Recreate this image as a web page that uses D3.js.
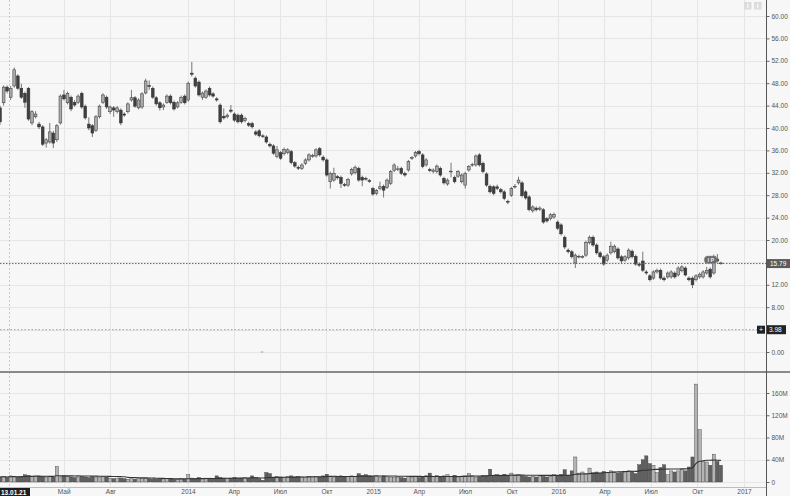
<!DOCTYPE html>
<html><head><meta charset="utf-8">
<script src="https://cdn.jsdelivr.net/npm/d3@7"></script>
<style>
body{margin:0;background:#f7f7f7;}
svg{display:block;font-family:"Liberation Sans",Arial,sans-serif;}
</style>
</head><body>
<svg id="c" width="790" height="496"></svg>
<script>
// ---- data (weekly candles) ----
const startDate = "2012-12-24";
const openP = [
43.6,44.5,47.3,45.5,47.5,49.3,47.1,46.2,47.1,40.9,
42.0,40.7,40.2,37.3,37.5,39.1,37.9,40.9,45.9,44.5,
45.5,44.6,44.6,46.2,43.9,40.7,40.4,39.6,42.0,44.6,
45.5,42.9,43.6,42.9,43.2,42.5,42.9,45.0,45.4,43.6,
43.75,46.25,47.6,47.1,45.4,44.5,43.75,44.6,45.7,44.6,
43.75,44.6,45.7,45.0,49.8,48.9,48.2,45.5,45.5,47.1,
46.1,45.2,44.1,42.1,42.0,43.2,42.5,42.3,42.3,41.3,
40.8,40.8,39.3,39.5,38.6,38.4,37.1,36.8,34.9,35.6,
35.4,35.6,35.8,33.8,33.0,32.8,33.7,34.3,35.0,35.0,
36.3,34.8,34.3,30.4,30.7,31.3,31.2,29.9,29.8,31.8,
32.0,32.8,31.2,31.0,30.6,29.2,28.3,29.2,29.6,29.4,
30.1,32.4,32.6,32.8,31.9,32.5,34.6,35.0,35.8,35.2,
33.4,32.6,32.2,32.2,32.8,31.0,30.0,32.2,31.2,31.4,
30.4,29.8,32.5,33.4,33.4,35.2,33.7,31.8,29.6,29.5,
29.5,29.0,28.6,26.9,28.0,29.5,30.2,30.2,28.6,27.7,
25.2,25.7,25.5,25.4,23.8,23.8,24.1,23.2,22.7,20.5,
18.2,17.9,15.9,17.0,17.0,17.3,19.5,20.5,19.1,17.7,
17.0,16.4,17.7,17.9,18.4,17.0,16.4,16.8,18.0,17.1,
15.7,16.25,14.3,13.6,13.2,14.3,14.6,13.2,13.4,13.4,
14.1,13.75,14.5,15.0,13.2,13.2,12.9,13.4,13.4,14.1,
14.8,14.1,16.6,15.9];
const highP = [
44.0,47.6,47.6,47.5,50.8,49.6,47.9,46.5,47.3,43.2,
43.0,41.1,40.5,38.2,40.9,39.5,40.7,46.0,46.8,46.5,
45.8,45.0,46.0,46.5,44.2,41.9,40.7,42.3,44.2,46.2,
45.8,44.0,43.9,43.9,43.5,42.8,44.6,46.8,45.7,45.3,
46.4,48.8,48.5,47.4,45.7,44.8,44.4,46.0,46.0,44.9,
44.8,45.8,46.0,48.3,51.8,49.2,48.5,46.5,46.9,47.4,
46.4,45.5,44.4,43.5,42.6,44.1,42.8,42.6,42.6,42.0,
41.1,41.1,39.6,39.8,38.9,38.7,37.4,37.1,36.8,35.9,
36.5,36.4,36.1,34.1,33.3,33.7,34.6,35.5,35.4,36.4,
36.6,35.1,34.6,32.2,32.9,31.6,31.5,30.2,31.1,32.9,
33.3,33.1,31.5,31.3,30.9,29.5,29.1,30.4,29.9,31.0,
32.5,33.7,33.2,33.1,32.2,34.3,35.0,35.9,36.1,35.5,
34.6,32.9,32.8,33.5,33.1,31.3,31.0,33.8,31.5,32.5,
31.9,32.2,33.4,33.8,35.3,35.5,34.0,32.1,29.9,29.8,
29.9,29.3,28.9,27.2,29.5,30.0,31.3,30.5,28.9,28.0,
26.2,26.0,26.0,25.7,24.1,24.8,24.9,23.5,23.0,20.8,
18.5,18.2,17.6,17.4,17.3,19.9,20.8,20.8,19.4,18.0,
17.3,17.6,19.7,19.2,18.7,17.3,17.3,18.5,18.3,17.4,
16.0,17.9,14.6,13.9,14.6,14.9,14.9,13.5,14.4,14.6,
14.4,15.3,15.5,15.3,13.5,13.5,13.9,14.2,14.6,15.2,
15.1,17.4,17.5,16.1];
const lowP = [
40.6,44.0,46.2,45.0,47.2,46.8,45.2,43.6,41.3,40.5,
41.7,39.8,36.8,36.5,37.2,36.4,37.5,40.6,44.9,44.2,
43.0,43.8,44.3,43.4,41.5,39.6,38.4,39.3,41.7,44.3,
43.4,42.5,42.0,42.6,40.5,42.0,42.6,44.7,43.6,43.3,
43.4,46.0,46.8,45.2,44.0,43.1,43.2,44.3,44.2,43.1,
43.5,44.3,44.2,44.7,49.2,47.2,45.6,45.0,45.2,45.6,
45.4,44.7,40.8,41.5,41.7,42.7,41.1,40.8,40.8,41.0,
40.2,39.9,38.6,38.3,38.2,37.2,36.5,35.2,34.6,34.3,
35.1,35.3,33.5,32.9,32.5,32.5,33.4,34.0,34.7,34.7,
34.9,34.0,31.3,29.2,30.4,30.8,29.3,29.5,29.5,31.5,
31.7,30.4,29.6,30.6,30.2,27.9,28.0,28.9,27.6,29.1,
29.8,32.1,32.3,31.6,31.3,32.2,34.3,34.7,35.1,32.8,
33.1,32.1,31.9,31.9,31.3,29.9,29.7,31.2,30.1,31.1,
30.1,29.2,32.2,33.1,33.1,33.1,31.9,29.5,28.3,28.0,
28.9,28.3,27.1,26.4,27.7,29.2,29.9,27.6,27.2,25.1,
24.9,25.1,25.2,22.9,23.1,23.5,23.8,21.8,20.8,18.4,
17.6,16.7,15.0,16.7,16.7,17.0,19.2,18.8,17.4,16.7,
15.4,16.1,17.4,17.6,16.5,15.9,16.1,16.5,16.7,15.4,
15.2,14.3,13.8,12.6,12.9,14.0,12.9,12.6,13.1,13.1,
13.1,13.5,14.2,13.5,12.6,11.4,12.6,13.1,13.1,13.8,
13.1,13.8,16.0,15.6];
const closeP = [
41.1,47.3,46.6,47.1,50.4,47.1,45.5,44.6,41.6,42.9,
42.5,40.2,37.1,37.9,39.3,37.3,40.4,45.7,45.2,46.2,
43.4,44.1,45.7,43.75,41.8,40.0,39.1,42.0,43.9,45.9,
43.75,43.75,43.2,43.6,40.9,42.3,44.3,45.4,43.9,45.0,
46.1,48.4,47.4,45.5,44.3,43.6,44.1,45.7,44.5,43.4,
44.5,45.5,44.5,48.0,49.6,47.5,45.9,46.25,46.6,45.9,
45.7,45.0,41.1,41.8,42.3,43.0,41.4,41.1,41.1,41.7,
40.5,40.2,38.9,38.6,38.5,37.5,36.8,35.5,36.1,34.6,
36.2,36.1,33.8,33.2,32.8,33.4,34.3,35.2,35.1,36.1,
35.2,34.3,31.6,31.9,31.9,31.1,30.1,29.8,30.8,32.6,
33.0,30.7,30.7,30.9,30.5,28.2,28.8,29.5,28.9,30.7,
32.2,33.4,32.7,31.9,31.6,34.0,34.7,35.6,35.4,33.1,
34.3,32.4,32.5,33.2,31.6,30.2,30.7,32.3,30.4,32.2,
31.6,31.9,33.1,33.5,35.0,33.4,32.2,29.8,28.6,28.3,
29.2,28.6,27.4,26.8,29.2,29.6,30.7,27.9,27.5,25.4,
25.9,25.4,25.7,23.2,23.4,24.5,24.6,22.1,21.1,18.75,
17.9,17.0,17.3,17.1,17.05,19.6,20.5,19.1,17.7,17.0,
15.7,17.3,18.9,18.9,16.8,16.25,17.0,18.2,17.0,15.7,
15.5,14.6,14.1,12.9,14.3,14.6,13.2,12.9,14.1,14.3,
13.4,15.0,15.2,13.75,12.9,12.0,13.6,13.9,14.3,14.6,
13.4,17.1,16.25,15.79];
const volumeM = [
9,10,8,11,10,9,10,13,12,10,
11,11,10,9,10,9,28,9,11,10,
9,8,9,10,9,8,10,9,8,10,
9,7,6,6,7,6,5,6,5,6,
6,7,6,5,5,6,4,6,5,5,
5,6,5,13,7,6,8,6,7,7,
6,11,8,7,6,7,8,6,7,8,
7,11,8,6,3,17,15,9,10,9,
8,10,11,9,10,9,8,10,9,10,
9,11,14,10,9,10,11,9,10,11,
10,15,12,13,11,10,12,9,11,10,
9,8,9,8,7,10,9,10,8,9,
11,16,10,12,9,11,13,10,12,9,
10,11,15,11,9,10,12,11,23,12,
13,11,14,12,16,12,13,11,10,9,
10,9,11,10,9,10,13,12,14,22,
12,20,45,16,18,15,25,17,18,16,
19,17,20,18,16,17,18,20,19,15,
31,40,47,33,30,17,26,31,13,20,
18,20,22,20,27,45,176,94,37,36,
30,50,37,30];
const volMaPeriod = 20;

const priceTicks = [0,4,8,12,16,20,24,28,32,36,40,44,48,52,56,60];
const hiddenPriceLabels = [4,16]; // covered by the price tags in the reference
const volTicks = [0,40,80,120,160];
const volTickLabels = ["0","40M","80M","120M","160M"];
const xTickDates = ["2013-05-01","2013-08-01","2014-01-01","2014-04-01","2014-07-01","2014-10-01",
  "2015-01-01","2015-04-01","2015-07-01","2015-10-01","2016-01-01","2016-04-01","2016-07-01",
  "2016-10-01","2017-01-01"];
const xTickLabels = ["Май","Авг","2014","Апр","Июл","Окт","2015","Апр","Июл","Окт","2016","Апр","Июл","Окт","2017"];
const lastPrice = 15.79;
const crossPrice = 3.98;
const crossDateLabel = "13.01.21";
const crossDate = "2013-01-14";
const eventIndex = 200;
const eventLabel = "I P";

// ---- layout ----
const W = 790, H = 496;
const axisX = 766;
const parse = d3.timeParse("%Y-%m-%d");
const x = d3.scaleTime().domain([parse("2014-01-01"), parse("2017-01-01")]).range([188, 744]);
const yP = d3.scaleLinear().domain([0, 60]).range([352, 16]);
const yV = d3.scaleLinear().domain([0, 160]).range([482, 393]);
const sepY = 372, botY = 487.5;

const t0 = parse(startDate);
const data = openP.map((o, i) => ({
  d: d3.timeHour.offset(d3.timeDay.offset(t0, 7 * i), 60),
  o, h: highP[i], l: lowP[i], c: closeP[i], v: volumeM[i]
}));
data.forEach((p, i) => {
  const s = data.slice(Math.max(0, i - volMaPeriod + 1), i + 1);
  p.ma = d3.mean(s, q => q.v);
});

const svg = d3.select("#c");
svg.append("rect").attr("width", W).attr("height", H).attr("fill", "#f7f7f7");

const grid = svg.append("g").attr("stroke", "#e6e6e6").attr("stroke-width", 1);
priceTicks.forEach(t => grid.append("line").attr("x1", 0).attr("x2", axisX)
  .attr("y1", Math.round(yP(t)) + 0.5).attr("y2", Math.round(yP(t)) + 0.5));
volTicks.forEach(t => grid.append("line").attr("x1", 0).attr("x2", axisX)
  .attr("y1", Math.round(yV(t)) + 0.5).attr("y2", Math.round(yV(t)) + 0.5));
xTickDates.forEach(s => grid.append("line")
  .attr("x1", Math.round(x(parse(s))) + 0.5).attr("x2", Math.round(x(parse(s))) + 0.5)
  .attr("y1", 0).attr("y2", botY));

// crosshair vertical
const cx = Math.round(x(parse(crossDate))) + 0.5;
svg.append("line").attr("x1", cx).attr("x2", cx).attr("y1", 0).attr("y2", botY)
  .attr("stroke", "#c8c8c8").attr("stroke-dasharray", "2,2");

// separators
svg.append("line").attr("x1", 0).attr("x2", W).attr("y1", sepY).attr("y2", sepY)
  .attr("stroke", "#8a8a8a").attr("stroke-width", 2);
svg.append("line").attr("x1", 0).attr("x2", axisX).attr("y1", botY).attr("y2", botY)
  .attr("stroke", "#bdbdbd").attr("stroke-width", 1);
svg.append("line").attr("x1", axisX + 0.5).attr("x2", axisX + 0.5).attr("y1", 0).attr("y2", H)
  .attr("stroke", "#555").attr("stroke-width", 1);

// price axis
const pAxis = svg.append("g").attr("transform", `translate(${axisX + 0.5},0)`)
  .call(d3.axisRight(yP).tickValues(priceTicks)
    .tickFormat(d => hiddenPriceLabels.includes(d) ? "" : d3.format(".2f")(d)).tickSize(3).tickPadding(2));
pAxis.select(".domain").remove();
pAxis.selectAll("line").attr("stroke", "#666");
pAxis.selectAll("text").attr("fill", "#555").attr("font-size", 6.5);

const vAxis = svg.append("g").attr("transform", `translate(${axisX + 0.5},0)`)
  .call(d3.axisRight(yV).tickValues(volTicks).tickFormat((d, i) => volTickLabels[i]).tickSize(3).tickPadding(2));
vAxis.select(".domain").remove();
vAxis.selectAll("line").attr("stroke", "#666");
vAxis.selectAll("text").attr("fill", "#555").attr("font-size", 6.5);

// x labels
const xAxis = svg.append("g").attr("transform", `translate(0,${botY})`)
  .call(d3.axisBottom(x).tickValues(xTickDates.map(parse)).tickFormat((d, i) => xTickLabels[i]).tickSize(0).tickPadding(2));
xAxis.select(".domain").remove();
xAxis.selectAll("text").attr("fill", "#555").attr("font-size", 6.5);

// volume bars
const bw = 3.2;
svg.append("g").selectAll("rect").data(data).join("rect")
  .attr("x", p => x(p.d) - bw / 2).attr("width", bw)
  .attr("y", p => yV(p.v)).attr("height", p => yV(0) - yV(p.v))
  .attr("fill", p => p.c >= p.o ? "#b4b4b4" : "#606060")
  .attr("stroke", "#3a3a3a").attr("stroke-width", 0.4);

svg.append("path").datum(data)
  .attr("d", d3.line().x(p => x(p.d)).y(p => yV(p.ma)).curve(d3.curveMonotoneX))
  .attr("fill", "none").attr("stroke", "#333").attr("stroke-width", 1.1);

// candles
const cw = 2.8;
const cg = svg.append("g");
cg.selectAll("line").data(data).join("line")
  .attr("x1", p => x(p.d)).attr("x2", p => x(p.d))
  .attr("y1", p => yP(p.h)).attr("y2", p => yP(p.l))
  .attr("stroke", "#555").attr("stroke-width", 0.8);
cg.selectAll("rect").data(data).join("rect")
  .attr("x", p => x(p.d) - cw / 2).attr("width", cw)
  .attr("y", p => yP(Math.max(p.o, p.c)))
  .attr("height", p => Math.max(0.8, Math.abs(yP(p.o) - yP(p.c))))
  .attr("fill", p => p.c >= p.o ? "#aaaaaa" : "#3f3f3f")
  .attr("stroke", "#333").attr("stroke-width", 0.5);

// last price line + label
const ly = yP(lastPrice);
svg.append("line").attr("x1", 0).attr("x2", axisX).attr("y1", ly).attr("y2", ly)
  .attr("stroke", "#666").attr("stroke-dasharray", "1.5,1.5");
svg.append("rect").attr("x", axisX + 1).attr("y", ly - 4.5).attr("width", 23).attr("height", 9)
  .attr("fill", "#5b5b5b");
svg.append("text").attr("x", axisX + 4).attr("y", ly + 2.3).attr("fill", "#fff")
  .attr("font-size", 6.5).text(lastPrice.toFixed(2));

// crosshair horizontal
const hy = yP(crossPrice);
svg.append("line").attr("x1", 0).attr("x2", axisX - 9).attr("y1", hy).attr("y2", hy)
  .attr("stroke", "#9a9a9a").attr("stroke-dasharray", "1.5,2");
svg.append("rect").attr("x", axisX - 9).attr("y", hy - 4).attr("width", 8).attr("height", 8).attr("fill", "#222");
svg.append("text").attr("x", axisX - 5).attr("y", hy + 2.4).attr("text-anchor", "middle")
  .attr("fill", "#fff").attr("font-size", 7).text("+");
svg.append("rect").attr("x", axisX + 1).attr("y", hy - 4.5).attr("width", 19).attr("height", 9).attr("fill", "#222");
svg.append("text").attr("x", axisX + 3).attr("y", hy + 2.3).attr("fill", "#fff")
  .attr("font-size", 6.5).text(crossPrice.toFixed(2));

// crosshair date label
svg.append("rect").attr("x", 0).attr("y", botY + 0.5).attr("width", 30).attr("height", 9).attr("fill", "#1e1e1e");
svg.append("text").attr("x", 1).attr("y", botY + 7).attr("fill", "#fff").attr("font-size", 6.5)
  .attr("font-weight", "bold").text(crossDateLabel);

// event marker
const ev = data[eventIndex];
svg.append("rect").attr("x", x(ev.d) - 6).attr("y", yP(lastPrice) - 7.5).attr("width", 13).attr("height", 7.5)
  .attr("rx", 3.5).attr("fill", "#6a6a6a").attr("stroke", "#999").attr("stroke-width", 0.5);
svg.append("text").attr("x", x(ev.d) + 0.5).attr("y", yP(lastPrice) - 1.7).attr("text-anchor", "middle")
  .attr("fill", "#f0f0f0").attr("font-size", 5.5).attr("font-weight", "bold").text(eventLabel);

// small marker
svg.append("text").attr("x", 262).attr("y", yP(0) + 1.5).attr("text-anchor", "middle")
  .attr("fill", "#aaa").attr("font-size", 5).text("=");

// top-right buttons
[744, 754].forEach(bx => {
  svg.append("rect").attr("x", bx).attr("y", 2).attr("width", 7.5).attr("height", 7.5).attr("fill", "#dcdcdc");
  svg.append("rect").attr("x", bx + 3.2).attr("y", 3.5).attr("width", 1.2).attr("height", 4.5).attr("fill", "#fafafa");
});
</script>
</body></html>
